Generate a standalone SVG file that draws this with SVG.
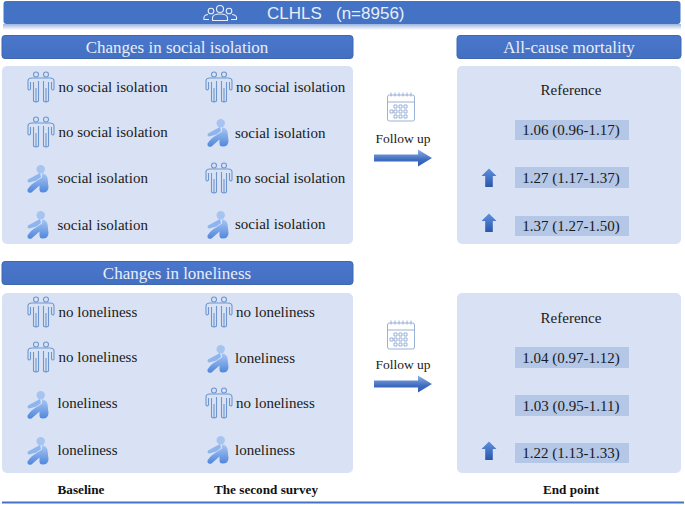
<svg xmlns="http://www.w3.org/2000/svg" width="685" height="505" viewBox="0 0 685 505">
<style>
.hd{fill:url(#hg);stroke:#3f68ad;stroke-width:1}
.pn{fill:#d9e2f4}
.t{font-family:"Liberation Serif",serif;font-size:15px;fill:#1a1a1a}
.h{font-family:"Liberation Serif",serif;font-size:17px;fill:#e8eef8;text-anchor:middle}
.b{font-family:"Liberation Serif",serif;font-size:13.2px;font-weight:bold;fill:#111;text-anchor:middle}
.v{fill:#b4c7e7}
.m{text-anchor:middle}
.l{fill:none;stroke:#6d96cf;stroke-width:1.1}
.c{fill:none;stroke:#8ea9d3;stroke-width:.9}
</style>
<defs>
<linearGradient id="hg" x1="0" y1="0" x2="0" y2="1"><stop offset="0" stop-color="#4a76cb"/><stop offset="1" stop-color="#4470c4"/></linearGradient>
<linearGradient id="ar" x1="0" y1="0" x2="0" y2="1"><stop offset="0" stop-color="#8fb0e3"/><stop offset=".6" stop-color="#3f6cc0"/><stop offset="1" stop-color="#2f5cb0"/></linearGradient>
<linearGradient id="up" x1="0" y1="0" x2="0" y2="1"><stop offset="0" stop-color="#5f90de"/><stop offset="1" stop-color="#2a56ab"/></linearGradient>
<linearGradient id="sg" x1="0" y1="0" x2="0" y2="1"><stop offset="0" stop-color="#a9c6f2"/><stop offset="1" stop-color="#4f86dc"/></linearGradient>
<linearGradient id="sh" x1="0" y1="0" x2="0" y2="1"><stop offset="0" stop-color="#9db5e0"/><stop offset="1" stop-color="#ffffff"/></linearGradient>
<g id="two">
<circle cx="-5" cy="-13.500" r="2.500" class="l"/><circle cx="5" cy="-13.500" r="2.500" class="l"/>
<path class="l" d="M-13-7Q-13-10-9-10H9Q13-10 13-7L13 1Q12 3 10.500 1V-6M-13-7V1Q-12 3-10.500 1V-6M-7.500-6V13Q-5 15-2.500 13V1M2.500 1V13Q5 15 7.500 13V-6M-2.500 1V-7M2.500 1V-7M-5 0V14M5 0V14"/>
</g>
<g id="sit">
<circle cx="2.700" cy="-9.700" r="4.200" fill="#a7c4f1"/>
<path fill="#8fb5ee" d="M2-6L-10 .5Q-11.500 3-8.500 3.500L-1.500 1.500L3-2Z"/>
<path fill="url(#sg)" d="M4-5.500Q8.500-5.500 9.500-1L10.500 8Q10.500 13.500 4.500 13.500Q1.500 13.500 1.500 10.500L1.500 6.500L-6.500 13.500Q-11 14.500-10.500 10.500Q-7 5-2 2.500L4-1.500Z"/>
</g>
<path id="uarr" d="M0-9.500L7.500-2H3.800V9H-3.800V-2H-7.500Z" fill="url(#up)"/>
<g id="arrow"><path d="M0-3.500H44V-8.500L58 0L44 8.500V3.500H0Z" fill="url(#ar)"/></g>
<g id="cal">
<rect x="-13.500" y="-12" width="27" height="26" rx="2" class="c"/>
<path class="c" d="M-13.500-5H13.500M-10-14.500v4M-6-14.500v4M-2-14.500v4M2-14.500v4M6-14.500v4M10-14.500v4"/>
<path class="c" d="M-7-2h3v3h-3zM-2-2h3v3h-3zM3-2h3v3h-3zM-11 3h3v3h-3zM-7 3h3v3h-3zM-2 3h3v3h-3zM3 3h3v3h-3zM-7 8h3v3h-3zM-2 8h3v3h-3zM3 8h3v3h-3z"/>
</g>
</defs>
<rect x="3" y="24" width="678" height="6" fill="url(#sh)"/>
<g id="top">
<rect x="3.500" y="1" width="677" height="23" rx="3" fill="#4472c4"/>
<g fill="none" stroke="#e8eef8" stroke-width="1.100"><circle cx="220" cy="9" r="3.500"/><circle cx="211" cy="11" r="2.800"/><circle cx="229" cy="11" r="2.800"/><path d="M212.500 20.500V18Q212.500 14 220 14Q227.500 14 227.500 18V20.500ZM209 19.500H204Q203 15 208 14.500M231 19.500H236.500Q237.500 15 232 14.500"/></g>
<text x="267" y="18.500" style="font-family:'Liberation Sans',sans-serif;font-size:17px;fill:#e8eef8" xml:space="preserve">CLHLS   (n=8956)</text>
</g>
<g id="h1"><rect class="hd" x="2" y="35.500" width="351" height="23" rx="3"/><text class="h" x="177" y="53">Changes in social isolation</text></g>
<g id="h2"><rect class="hd" x="457" y="35.500" width="224" height="23" rx="3"/><text class="h" x="569" y="53">All-cause mortality</text></g>
<g id="h3"><rect class="hd" x="2" y="261.500" width="351" height="23" rx="3"/><text class="h" x="177" y="279">Changes in loneliness</text></g>
<g id="p1"><rect class="pn" x="2" y="66" width="351" height="178" rx="5"/></g>
<g id="p2"><rect class="pn" x="457" y="66" width="224" height="178" rx="5"/></g>
<g id="p3"><rect class="pn" x="2" y="293" width="351" height="180" rx="5"/></g>
<g id="p4"><rect class="pn" x="457" y="293" width="224" height="180" rx="5"/></g>
<g id="social-baseline">
<use href="#two" x="41" y="88"/><text class="t" x="58.500" y="92">no social isolation</text>
<use href="#two" x="41" y="133"/><text class="t" x="58.500" y="137">no social isolation</text>
<use href="#sit" x="38" y="179"/><text class="t" x="57.500" y="183">social isolation</text>
<use href="#sit" x="38" y="225"/><text class="t" x="57.500" y="230">social isolation</text>
</g>
<g id="social-second">
<use href="#two" x="219" y="88"/><text class="t" x="236" y="92">no social isolation</text>
<use href="#sit" x="218" y="133"/><text class="t" x="235" y="138">social isolation</text>
<use href="#two" x="219" y="179"/><text class="t" x="236" y="183">no social isolation</text>
<use href="#sit" x="218" y="225"/><text class="t" x="235" y="229">social isolation</text>
</g>
<g id="lonely-baseline">
<use href="#two" x="41" y="313"/><text class="t" x="58.500" y="317">no loneliness</text>
<use href="#two" x="41" y="358"/><text class="t" x="58.500" y="362">no loneliness</text>
<use href="#sit" x="38" y="405"/><text class="t" x="57.500" y="408">loneliness</text>
<use href="#sit" x="38" y="451"/><text class="t" x="57.500" y="455">loneliness</text>
</g>
<g id="lonely-second">
<use href="#two" x="219" y="313"/><text class="t" x="236" y="317">no loneliness</text>
<use href="#sit" x="218" y="359"/><text class="t" x="235" y="363">loneliness</text>
<use href="#two" x="219" y="404"/><text class="t" x="236" y="408">no loneliness</text>
<use href="#sit" x="218" y="450"/><text class="t" x="235" y="455">loneliness</text>
</g>
<g id="connectors">
<use href="#arrow" x="374" y="158"/>
<use href="#arrow" x="374" y="384"/>
</g>
<g id="follow1"><use href="#cal" x="401" y="107"/><text class="t m" x="403" y="143" style="font-size:13.500px">Follow up</text></g>
<g id="follow2"><use href="#cal" x="401" y="335"/><text class="t m" x="403" y="369" style="font-size:13.500px">Follow up</text></g>
<g id="results1">
<text class="t m" x="571" y="95">Reference</text>
<rect class="v" x="515" y="120" width="114" height="20"/><text class="t m" x="571" y="135">1.06 (0.96-1.17)</text>
<rect class="v" x="515" y="167" width="114" height="21"/><text class="t m" x="571" y="183">1.27 (1.17-1.37)</text>
<rect class="v" x="515" y="216" width="114" height="20"/><text class="t m" x="571" y="231">1.37 (1.27-1.50)</text>
<use href="#uarr" x="489" y="178"/><use href="#uarr" x="489" y="223"/>
</g>
<g id="results2">
<text class="t m" x="571" y="323">Reference</text>
<rect class="v" x="515" y="347" width="114" height="21"/><text class="t m" x="571" y="363">1.04 (0.97-1.12)</text>
<rect class="v" x="515" y="395" width="114" height="21"/><text class="t m" x="571" y="411">1.03 (0.95-1.11)</text>
<rect class="v" x="515" y="443" width="114" height="20"/><text class="t m" x="571" y="458">1.22 (1.13-1.33)</text>
<use href="#uarr" x="489" y="451"/>
</g>
<g id="footer">
<text class="b" x="81" y="494">Baseline</text>
<text class="b" x="266" y="494">The second survey</text>
<text class="b" x="571" y="494">End point</text>
<rect x="2" y="501.500" width="682" height="2" fill="#4472c4"/>
</g>
</svg>
